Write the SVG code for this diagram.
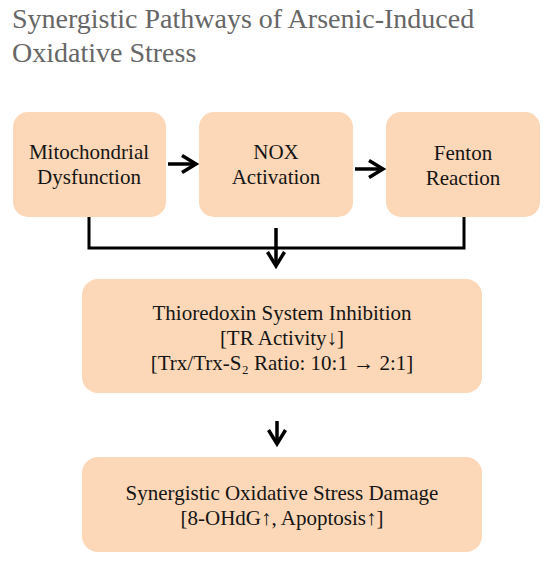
<svg xmlns="http://www.w3.org/2000/svg" width="550" height="561" viewBox="0 0 550 561">
<defs>
<style>
.box{fill:#FDD8B8;}
.t{font-family:"Liberation Serif","Times New Roman","DejaVu Serif",serif;font-size:21px;fill:#151515;text-anchor:middle;}
.title{font-family:"Liberation Serif","Times New Roman","DejaVu Serif",serif;font-size:28px;fill:#666666;}
.ln{fill:none;stroke:#000;stroke-width:3;}
.ar{fill:none;stroke:#000;stroke-width:3.5;}
.sym{font-family:"Liberation Serif","DejaVu Serif",serif;}
</style>
<marker id="ahv" viewBox="0 0 20 20" refX="16" refY="10" markerWidth="20" markerHeight="20" markerUnits="userSpaceOnUse" orient="auto">
<path d="M2,1.5 L16,10 L2,18.5" fill="none" stroke="#000" stroke-width="3.5"/>
</marker>
</defs>
<rect width="550" height="561" fill="#ffffff"/>
<g id="title">
<text class="title" x="12" y="28">Synergistic Pathways of Arsenic-Induced</text>
<text class="title" x="12" y="62">Oxidative Stress</text>
</g>
<g id="connectors">
<line class="ar" x1="168" y1="164" x2="196" y2="164" marker-end="url(#ahv)"/>
<line class="ar" x1="355" y1="169" x2="383" y2="169" marker-end="url(#ahv)"/>
<polyline class="ln" points="89,217 89,248 464,248 464,217"/>
<line class="ar" x1="276" y1="228" x2="276" y2="266" marker-end="url(#ahv)"/>
<line class="ar" x1="277" y1="421" x2="277" y2="444" marker-end="url(#ahv)"/>
</g>
<g id="mito">
<rect class="box" x="13" y="112" width="153" height="105" rx="15"/>
<text class="t" x="89" y="159">Mitochondrial</text>
<text class="t" x="89" y="184">Dysfunction</text>
</g>
<g id="nox">
<rect class="box" x="199" y="112" width="154" height="105" rx="15"/>
<text class="t" x="276" y="159">NOX</text>
<text class="t" x="276" y="184">Activation</text>
</g>
<g id="fenton">
<rect class="box" x="386" y="112" width="154" height="105" rx="15"/>
<text class="t" x="463" y="160">Fenton</text>
<text class="t" x="463" y="185">Reaction</text>
</g>
<g id="thioredoxin">
<rect class="box" x="82" y="279" width="400" height="114" rx="16"/>
<text class="t" x="282" y="320">Thioredoxin System Inhibition</text>
<text class="t" x="282" y="345">[TR Activity↓︎]</text>
<text class="t" x="282" y="370">[Trx/Trx-S₂ Ratio: 10:1 → 2:1]</text>
</g>
<g id="damage">
<rect class="box" x="82" y="457" width="400" height="95" rx="16"/>
<text class="t" x="282" y="500">Synergistic Oxidative Stress Damage</text>
<text class="t" x="282" y="525">[8-OHdG↑︎, Apoptosis↑︎]</text>
</g>
</svg>
